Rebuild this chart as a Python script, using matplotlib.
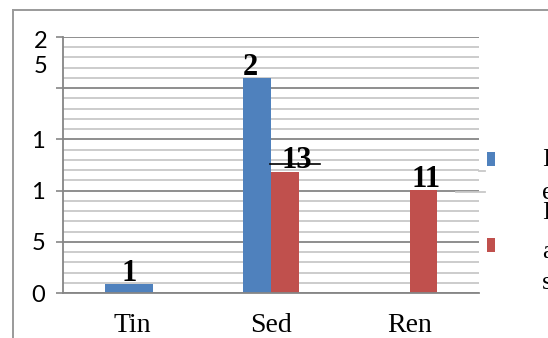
import numpy as np
import matplotlib
matplotlib.use("Agg")
import matplotlib.pyplot as plt
import matplotlib.transforms as mtransforms
from matplotlib.patches import Rectangle
from matplotlib.lines import Line2D

categories = ["Tin", "Sed", "Ren"]
blue_vals = [1, 23, 0]
red_vals = [0, 13, 11]
blue_text = ["1", "2", ""]
red_text = ["", "13", "11"]
y_tick_text = ["0", "5", "1", "1", "", ""]
legend_lines = ["I", "e\nI", "a", "s"]

BLUE = "#4f81bd"
RED = "#c0504d"
SERIF = "Liberation Serif"
SANS = "Lato"

W, H = 548, 338
fig = plt.figure(figsize=(W / 100, H / 100), dpi=100)


def fx(px):
    return px / W


def fy(py):
    return 1 - py / H


ax = fig.add_axes([fx(63), fy(293), (479 - 63) / W, (293 - 37) / H])

ymax = 27.4
step = ymax / 25
x = np.arange(len(categories))

ax.bar(x - 0.2, blue_vals, width=[0.35, 0.2, 0.2], align="edge", color=BLUE, linewidth=0)
ax.bar(x, red_vals, width=0.2, align="edge", color=RED, linewidth=0)

# data labels
blue_dx = [-0.025, -0.146, 0]
red_dx = [0, 0.185, 0.12]
for i, v in enumerate(blue_vals):
    if blue_text[i]:
        ax.text(x[i] + blue_dx[i], v + 1.1, blue_text[i], ha="center", va="center",
                fontsize=22, fontweight="bold", family=SERIF)
for i, v in enumerate(red_vals):
    if red_text[i]:
        ax.text(x[i] + red_dx[i], v + 1.2, red_text[i], ha="center", va="center",
                fontsize=22, fontweight="bold", family=SERIF)
# leader line through the 13 label
ax.plot([x[1] - 0.007, x[1] + 0.353], [red_vals[1] + 0.8] * 2, color="black", lw=1.2,
        clip_on=False, zorder=5)

ax.set_xlim(-0.5, 2.5)
ax.set_ylim(0, ymax)
majors = np.arange(6) * step * 5
ax.set_yticks(majors)
ax.set_yticks(np.arange(26) * step, minor=True)
ax.set_yticklabels(y_tick_text, fontsize=17, family=SANS)
offset = mtransforms.ScaledTranslation(0, -3 / 100, fig.dpi_scale_trans)
for lab in ax.get_yticklabels():
    lab.set_transform(lab.get_transform() + offset)
ax.tick_params(axis="y", which="major", length=5, width=1.2, color="#868686", pad=8)
ax.tick_params(axis="y", which="minor", length=0)
ax.set_xticks([])

ax.grid(axis="y", which="major", color="#868686", lw=1.3)
ax.grid(axis="y", which="minor", color="#c8c8c8", lw=1.3)
ax.set_axisbelow(True)
for s in ["top", "right"]:
    ax.spines[s].set_visible(False)
ax.spines["left"].set_color("#868686")
ax.spines["bottom"].set_color("#868686")
ax.spines["left"].set_linewidth(1.3)
ax.spines["bottom"].set_linewidth(1.3)

for i, c in enumerate(categories):
    ax.text(x[i], -0.125, c, transform=ax.get_xaxis_transform(), ha="center", va="center",
            fontsize=20, family=SERIF)

# broken top label
fig.text(fx(41), fy(41.7), "2", ha="center", va="center", fontsize=17, family=SANS)
fig.text(fx(41), fy(66.7), "5", ha="center", va="center", fontsize=17, family=SANS)

# chart frame
fig.add_artist(Line2D([fx(13), fx(548)], [fy(9.5), fy(9.5)], color="#9a9a9a", lw=1.4))
fig.add_artist(Line2D([fx(13), fx(13)], [fy(9.5), fy(338)], color="#9a9a9a", lw=1.4))

# stray gridline pieces near legend
fig.add_artist(Line2D([fx(479), fx(485)], [fy(170.7)] * 2, color="#c8c8c8", lw=1.3))
fig.add_artist(Line2D([fx(456), fx(485)], [fy(191.7)] * 2, color="#c8c8c8", lw=1.3))

# legend
fig.add_artist(Rectangle((fx(487), fy(166)), 8 / W, 14 / H, transform=fig.transFigure,
                         color=BLUE, lw=0))
fig.add_artist(Rectangle((fx(487), fy(252)), 8 / W, 14 / H, transform=fig.transFigure,
                         color=RED, lw=0))
leg_y = [160, 203, 252, 283]
for t, py in zip(legend_lines, leg_y):
    fig.text(fx(542), fy(py), t, ha="left", va="center", fontsize=19, family=SERIF,
             linespacing=0.85)

fig.savefig("out.png", dpi=100)
